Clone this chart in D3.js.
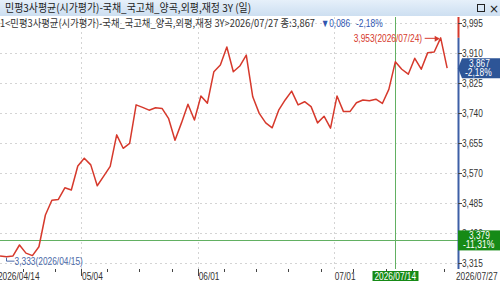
<!DOCTYPE html>
<html>
<head>
<meta charset="utf-8">
<script src="https://cdn.jsdelivr.net/npm/d3@7"></script>
<style>
  body { margin: 0; background: #fff; }
  svg { display: block; font-family: "Liberation Sans", Arial, sans-serif; }
  .kr { font-family: "Noto Sans CJK KR", sans-serif; }
</style>
</head>
<body>
<div id="chart"></div>
<script>
// trading days shown on the chart
var tradeDates = [
  "2026/04/14","2026/04/15","2026/04/16","2026/04/17","2026/04/20","2026/04/21","2026/04/22",
  "2026/04/23","2026/04/24","2026/04/27","2026/04/28","2026/04/29","2026/04/30",
  "2026/05/04","2026/05/06","2026/05/07","2026/05/08","2026/05/11","2026/05/12","2026/05/13",
  "2026/05/14","2026/05/15","2026/05/18","2026/05/19","2026/05/20","2026/05/21","2026/05/22",
  "2026/05/26","2026/05/27","2026/05/28","2026/05/29",
  "2026/06/01","2026/06/02","2026/06/04","2026/06/05","2026/06/08","2026/06/09","2026/06/10",
  "2026/06/11","2026/06/12","2026/06/15","2026/06/16","2026/06/17","2026/06/18","2026/06/19",
  "2026/06/22","2026/06/23","2026/06/24","2026/06/25","2026/06/26","2026/06/29","2026/06/30",
  "2026/07/01","2026/07/02","2026/07/03","2026/07/06","2026/07/07","2026/07/08","2026/07/09",
  "2026/07/10","2026/07/13","2026/07/14","2026/07/15","2026/07/16","2026/07/20","2026/07/21",
  "2026/07/22","2026/07/23","2026/07/24","2026/07/27"
];

// closing values (x1000)
var closeValues = [
  3335, 3333, 3335, 3366, 3343, 3336, 3361, 3451, 3493, 3495, 3528, 3522, 3590,
  3612, 3593, 3534, 3561, 3589, 3678, 3640, 3654, 3763, 3756, 3748, 3755, 3753, 3725,
  3663, 3712, 3765, 3720,
  3788, 3768, 3857, 3876, 3927, 3857, 3873, 3904, 3786, 3739, 3712, 3698, 3748, 3777,
  3802, 3763, 3772, 3758, 3712, 3731, 3697,
  3788, 3744, 3744, 3769, 3777, 3775, 3779, 3767, 3807, 3885, 3864, 3850, 3895, 3864,
  3911, 3913, 3953, 3867
];

var yTicks = [3315, 3400, 3485, 3570, 3655, 3740, 3825, 3910, 3995];

var titleText = "민평3사평균(시가평가)-국채_국고채_양곡,외평,재정 3Y (일)";
var infoText = "1<민평3사평균(시가평가)-국채_국고채_양곡,외평,재정 3Y>2026/07/27 종:3,867";
var changeText = "▼0,086";
var changePct = "-2,18%";

var crossDate = "2026/07/14";
var crossValue = 3379;
var crossPct = "-11,31%";

var minDate = "2026/04/15", minValue = 3333;
var maxDate = "2026/07/24", maxValue = 3953;

(function() {
  var W = 500, H = 281;
  var plotTop = 17, plotBottom = 269, axisX = 458;

  var svg = d3.select("#chart").append("svg")
    .attr("width", W).attr("height", H);

  var x = d3.scaleBand().domain(tradeDates).range([-3.2, 450.4]);
  var cx = function(d) { return x(d) + x.bandwidth() / 2; };
  var y = d3.scaleLinear().domain([3315, 3995]).range([263, 23]);
  var fmt = d3.format(",");

  // the chart font is a narrow bitmap one, so squeeze numbers to its width
  function narrow(sel, s) {
    var w = 0;
    for (var i = 0; i < s.length; i++) {
      var c = s[i];
      if (/[0-9]/.test(c)) w += 4.6;
      else if (c === "%") w += 6.5;
      else if (c === "(" || c === ")") w += 3;
      else if (c === "-") w += 4;
      else w += 2.4;
    }
    return sel.text(s).attr("textLength", w).attr("lengthAdjust", "spacingAndGlyphs");
  }

  // title bar
  var grad = svg.append("defs").append("linearGradient")
    .attr("id", "bar").attr("x1", 0).attr("y1", 0).attr("x2", 0).attr("y2", 1);
  grad.append("stop").attr("offset", 0).attr("stop-color", "#e6f0fa");
  grad.append("stop").attr("offset", 1).attr("stop-color", "#cddff1");
  svg.append("rect").attr("x", 0).attr("y", 0).attr("width", W).attr("height", 16)
    .attr("fill", "url(#bar)");
  svg.append("text").attr("class", "kr").attr("x", 5).attr("y", 12)
    .attr("font-size", 11).attr("fill", "#222")
    .attr("textLength", 246).attr("lengthAdjust", "spacingAndGlyphs")
    .text(titleText);
  svg.append("rect").attr("x", 477.5).attr("y", 4.5).attr("width", 7).attr("height", 7)
    .attr("fill", "none").attr("stroke", "#222");
  svg.append("text").attr("x", 489).attr("y", 12.5).attr("font-size", 12)
    .attr("font-family", "DejaVu Sans").attr("fill", "#222").text("×");

  // grid
  svg.append("g").selectAll("line").data(yTicks).enter().append("line")
    .attr("x1", 0).attr("x2", axisX)
    .attr("y1", function(d) { return Math.round(y(d)) + 0.5; })
    .attr("y2", function(d) { return Math.round(y(d)) + 0.5; })
    .attr("stroke", "#d4d4d4").attr("stroke-dasharray", "2,3");

  var monthStarts = tradeDates.filter(function(d, i) {
    return i > 0 && d.slice(5, 7) !== tradeDates[i - 1].slice(5, 7);
  });
  var weekStarts = tradeDates.filter(function(d, i) {
    return i > 0 && new Date(d).getDay() <= new Date(tradeDates[i - 1]).getDay();
  });

  svg.append("g").selectAll("line").data(monthStarts).enter().append("line")
    .attr("x1", function(d) { return Math.round(x(d)) + 0.5; })
    .attr("x2", function(d) { return Math.round(x(d)) + 0.5; })
    .attr("y1", plotTop).attr("y2", plotBottom)
    .attr("stroke", "#d4d4d4").attr("stroke-dasharray", "2,3");

  // x ticks
  svg.append("g").selectAll("line").data(weekStarts).enter().append("line")
    .attr("x1", function(d) { return Math.round(x(d)) + 0.5; })
    .attr("x2", function(d) { return Math.round(x(d)) + 0.5; })
    .attr("y1", plotBottom)
    .attr("y2", function(d) { return monthStarts.indexOf(d) >= 0 ? plotBottom + 7 : plotBottom + 3; })
    .attr("stroke", "#444");

  svg.append("g").selectAll("text").data(monthStarts).enter().append("text")
    .attr("x", function(d) { return x(d) + 1; })
    .attr("y", 280)
    .attr("font-size", 11).attr("fill", "#333")
    .each(function(d) { narrow(d3.select(this), d.slice(5)); });

  narrow(svg.append("text").attr("x", -2).attr("y", 280).attr("font-size", 11).attr("fill", "#333"),
    tradeDates[0]);
  narrow(svg.append("text").attr("x", 456).attr("y", 280)
    .attr("font-size", 11).attr("fill", "#333"), tradeDates[tradeDates.length - 1]);

  // crosshair
  var crossX = Math.round(cx(crossDate)) + 0.5;
  svg.append("line").attr("x1", crossX).attr("x2", crossX)
    .attr("y1", plotTop).attr("y2", plotBottom)
    .attr("stroke", "#62b062").attr("stroke-width", 1);
  svg.append("line").attr("x1", 0).attr("x2", axisX)
    .attr("y1", Math.round(y(crossValue)) + 0.5).attr("y2", Math.round(y(crossValue)) + 0.5)
    .attr("stroke", "#62b062").attr("stroke-width", 1);

  // price line
  var line = d3.line()
    .x(function(d, i) { return cx(tradeDates[i]); })
    .y(function(d) { return y(d); });
  svg.append("path").datum(closeValues)
    .attr("d", line)
    .attr("fill", "none").attr("stroke", "#d6392c").attr("stroke-width", 1.5)
    .attr("stroke-linejoin", "round");

  // min / max notes
  var mx = Math.round(cx(minDate)) - 0.5, my = y(minValue);
  svg.append("path")
    .attr("d", "M" + mx + "," + (my + 1) + "V" + (my + 4.5) + "H" + (mx + 8))
    .attr("fill", "none").attr("stroke", "#4a69a8");
  narrow(svg.append("text").attr("x", mx + 8).attr("y", my + 8.5)
    .attr("font-size", 10.5).attr("fill", "#4a69a8"),
    fmt(minValue) + "(" + minDate + ")");

  var hx = cx(maxDate), hy = y(maxValue);
  narrow(svg.append("text").attr("x", hx - 87).attr("y", hy + 4)
    .attr("font-size", 10.5).attr("fill", "#d6392c"),
    fmt(maxValue) + "(" + maxDate + ")");
  svg.append("line").attr("x1", hx - 16).attr("x2", hx - 2)
    .attr("y1", hy + 0.5).attr("y2", hy + 0.5).attr("stroke", "#d6392c");
  svg.append("path").attr("d", "M" + (hx - 1) + "," + (hy + 1) + "l-5,-3l0,6z")
    .attr("fill", "#d6392c");

  // right axis
  svg.append("line").attr("x1", axisX + 0.5).attr("x2", axisX + 0.5)
    .attr("y1", plotTop).attr("y2", hy).attr("stroke", "#d6392c").attr("stroke-width", 2);
  svg.append("line").attr("x1", axisX + 0.5).attr("x2", axisX + 0.5)
    .attr("y1", hy).attr("y2", plotBottom).attr("stroke", "#3d5fa6").attr("stroke-width", 2);

  var yAxis = svg.append("g");
  yAxis.selectAll("line").data(yTicks).enter().append("line")
    .attr("x1", axisX).attr("x2", axisX + 4)
    .attr("y1", function(d) { return Math.round(y(d)) + 0.5; })
    .attr("y2", function(d) { return Math.round(y(d)) + 0.5; })
    .attr("stroke", "#444");
  yAxis.selectAll("text").data(yTicks).enter().append("text")
    .attr("x", axisX + 4).attr("y", function(d) { return y(d) + 4; })
    .attr("font-size", 11).attr("fill", "#333")
    .each(function(d) { narrow(d3.select(this), fmt(d)); });

  // info line
  svg.append("text").attr("class", "kr").attr("x", 0).attr("y", 27)
    .attr("font-size", 10.5).attr("fill", "#333")
    .attr("textLength", 315).attr("lengthAdjust", "spacingAndGlyphs")
    .text(infoText);
  svg.append("text").attr("x", 321).attr("y", 27).attr("font-size", 11).attr("fill", "#2f56b0")
    .attr("textLength", 29).attr("lengthAdjust", "spacingAndGlyphs")
    .text(changeText);
  narrow(svg.append("text").attr("x", 356).attr("y", 27).attr("font-size", 11).attr("fill", "#2f56b0"),
    changePct);

  // last value tag
  var last = closeValues[closeValues.length - 1], ly = y(last);
  svg.append("path")
    .attr("d", "M" + axisX + "," + ly + "L" + (axisX + 4) + "," + (ly - 10) + "H" + W +
      "V" + (ly + 10) + "H" + (axisX + 4) + "Z")
    .attr("fill", "#2d5597");
  narrow(svg.append("text").attr("x", 469).attr("y", ly - 1.5)
    .attr("font-size", 10).attr("fill", "#fff"), fmt(last));
  narrow(svg.append("text").attr("x", 465).attr("y", ly + 8)
    .attr("font-size", 10).attr("fill", "#fff"), changePct);

  // crosshair tags
  var cy = y(crossValue);
  svg.append("rect").attr("x", axisX).attr("y", cy - 10).attr("width", W - axisX).attr("height", 20)
    .attr("fill", "#168a16");
  narrow(svg.append("text").attr("x", 469).attr("y", cy - 1.5)
    .attr("font-size", 10).attr("fill", "#fff"), fmt(crossValue));
  narrow(svg.append("text").attr("x", 463).attr("y", cy + 8)
    .attr("font-size", 10).attr("fill", "#fff"), crossPct);

  svg.append("rect").attr("x", crossX - 23).attr("y", 271).attr("width", 46).attr("height", 10)
    .attr("fill", "#168a16");
  narrow(svg.append("text").attr("x", crossX - 21).attr("y", 280)
    .attr("font-size", 11).attr("fill", "#fff"), crossDate);
})();
</script>
</body>
</html>
